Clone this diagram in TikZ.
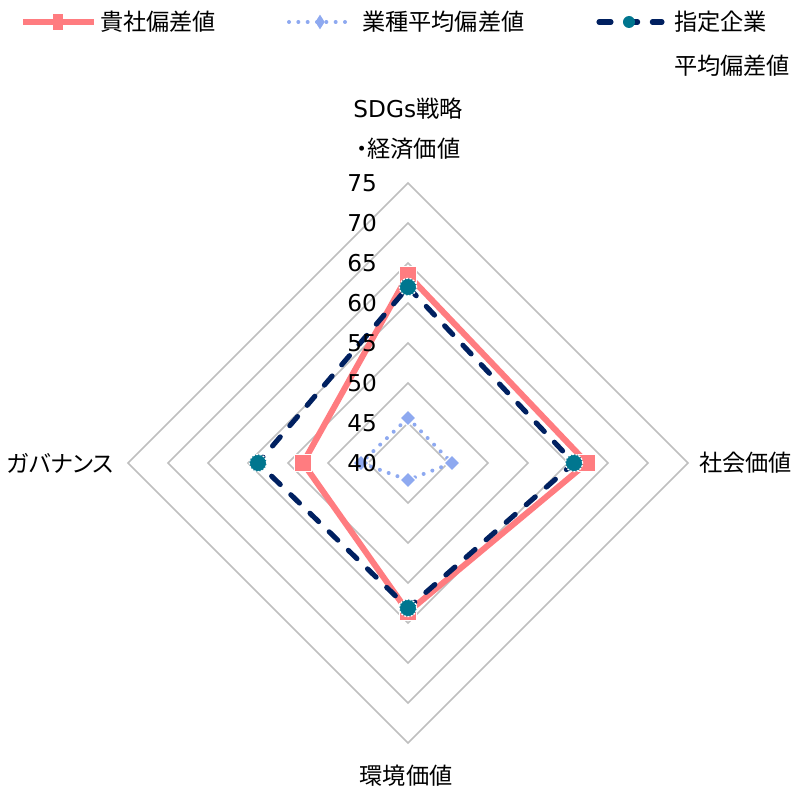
\documentclass[tikz,border=0pt]{standalone}
\usepackage{fontspec}
\setmainfont{DejaVu Sans}
\newfontfamily\cjk{Noto Sans CJK JP}
\newfontfamily\cjkp[RawFeature=+palt]{Noto Sans CJK JP}
\usetikzlibrary{shapes.geometric}
\definecolor{gridgray}{RGB}{191,191,191}
\definecolor{pinkc}{RGB}{255,124,128}
\definecolor{bluec}{RGB}{142,169,240}
\definecolor{navyc}{RGB}{0,32,96}
\definecolor{tealc}{RGB}{0,118,143}
\begin{document}
\begin{tikzpicture}[x=0.75pt,y=-0.75pt,
  every node/.style={inner sep=0pt,outer sep=0pt,font=\fontsize{17.4}{21}\selectfont},
  gridline/.style={draw=gridgray,line width=1.1pt,line join=miter},
  pinkline/.style={draw=pinkc,line width=4.5pt,line join=miter},
  blueline/.style={draw=bluec,line width=3pt,line cap=round,dash pattern=on 0pt off 7pt},
  navyline/.style={draw=navyc,line width=3.8pt,line cap=round,dash pattern=on 9pt off 11pt},
  sqmark/.style={rectangle,fill=pinkc,draw=white,line width=0.9pt,minimum size=13pt},
  dimark/.style={diamond,fill=bluec,draw=white,line width=0.9pt,minimum size=12pt},
  cimark/.style={circle,fill=tealc,draw=white,line width=0.9pt,dash pattern=on 1.5pt off 1pt,minimum size=13pt},
  ticklab/.style={anchor=east},
]
\useasboundingbox (0,0) rectangle (794,788);
% grid
\foreach \r in {40,80,...,280}{
  \draw[gridline] (408,463-\r) -- (408+\r,463) -- (408,463+\r) -- (408-\r,463) -- cycle;
}
% category labels
\node (catA1) at (408,109) {SDGs{\cjk 戦略}};
\node (catA2) at (408,149) {\cjkp ・{\cjk 経済価値}};
\node[anchor=west] (catB) at (699,463) {\cjk 社会価値};
\node[anchor=east] (catD) at (114,463) {\cjkp ガバナンス};
\node (catC) at (406,776) {\cjk 環境価値};
% series points
\coordinate (p1) at (408,275);
\coordinate (p2) at (587,463);
\coordinate (p3) at (408,612);
\coordinate (p4) at (303,463);
\coordinate (b1) at (408,418);
\coordinate (b2) at (452,463);
\coordinate (b3) at (408,480);
\coordinate (b4) at (361,463);
\coordinate (n1) at (408,287);
\coordinate (n2) at (574,463);
\coordinate (n3) at (408,608);
\coordinate (n4) at (258,463);
% series lines
\draw[pinkline] (p1) -- (p2) -- (p3) -- (p4) -- cycle;
\foreach \k in {1,2,3,4}{\node[sqmark] (ps\k) at (p\k) {};}
\draw[blueline] (b1) -- (b2) -- (b3) -- (b4) -- cycle;
\foreach \k in {1,2,3,4}{\node[dimark] (bs\k) at (b\k) {};}
\draw[navyline] (n1) -- (n2) -- (n3) -- (n4) -- cycle;
\foreach \k in {1,2,3,4}{\node[cimark] (ns\k) at (n\k) {};}
% tick labels
\foreach \v [count=\i from 0] in {40,45,...,75}{
  \node[ticklab] (t\v) at (377,463-40*\i) {\v};
}
% legend
\coordinate (la1) at (23,22); \coordinate (la2) at (94,22);
\draw[pinkline] (la1) -- (la2);
\node[rectangle,fill=pinkc,minimum width=7.5pt,minimum height=12pt] (lam) at (58,22) {};
\node[anchor=west] (lat) at (100,22) {\cjk 貴社偏差値};
\coordinate (lb1) at (289,22); \coordinate (lb2) at (350,22);
\draw[blueline] (lb1) -- (lb2);
\node[diamond,fill=bluec,minimum width=7pt,minimum height=11pt] (lbm) at (320,22) {};
\node[anchor=west] (lbt) at (362,22) {\cjk 業種平均偏差値};
\coordinate (lc1) at (599,22); \coordinate (lc2) at (662,22);
\draw[navyline] (lc1) -- (lc2);
\node[circle,fill=tealc,minimum size=9pt] (lcm) at (629,22) {};
\node[anchor=west] (lct) at (674,22) {\cjk 指定企業};
\node[anchor=west] (lct2) at (674,66) {\cjk 平均偏差値};
\end{tikzpicture}
\end{document}
